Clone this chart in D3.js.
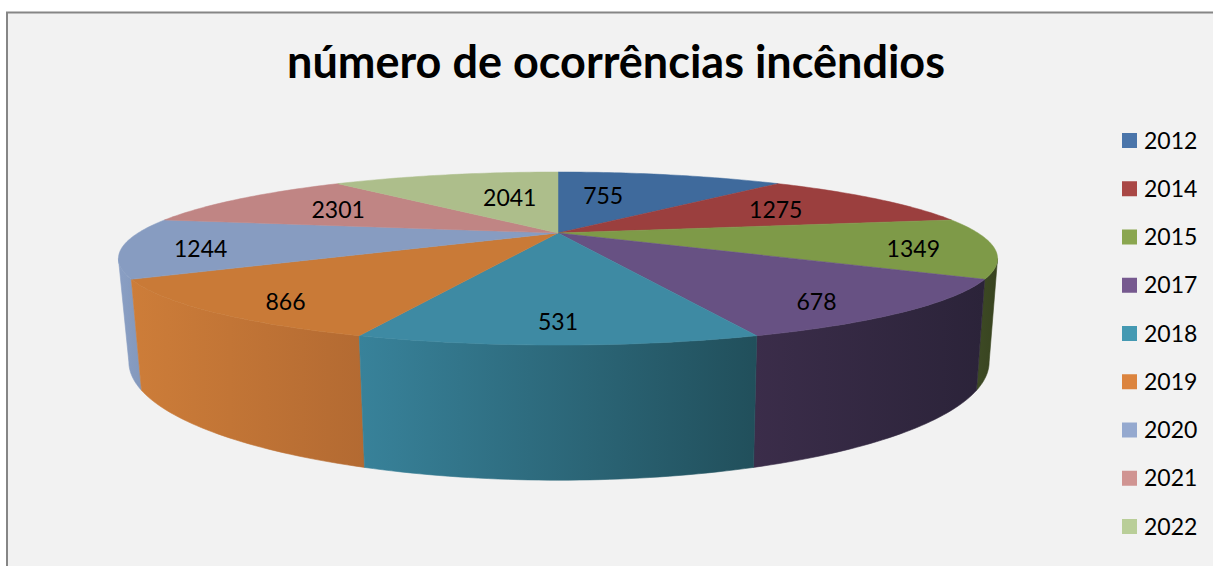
<!DOCTYPE html>
<html>
<head>
<meta charset="utf-8">
<script src="https://cdn.jsdelivr.net/npm/d3@7"></script>
<style>
  html, body { margin: 0; padding: 0; background: #fff; overflow: hidden; }
  text { font-family: Lato, "Noto Sans", sans-serif; fill: #000; }
</style>
</head>
<body>
<div id="chart"></div>
<script>
const titleText = "número de ocorrências incêndios";
const years = ["2012", "2014", "2015", "2017", "2018", "2019", "2020", "2021", "2022"];
const valueLabels = ["755", "1275", "1349", "678", "531", "866", "1244", "2301", "2041"];
// the slices in the picture are all the same size, whatever the label says
const sliceShares = [1, 1, 1, 1, 1, 1, 1, 1, 1];

const topColors = ["#3f6a9c", "#9b3f3e", "#7e9a48", "#675183", "#3e8aa3", "#c97a37", "#879cc1", "#c08584", "#adbe8b"];
const legendColors = ["#4a75aa", "#a94745", "#8aa64f", "#76598f", "#4499b2", "#dc843e", "#95a9cf", "#d09492", "#b9ce98"];
const wallLeft = ["#3f6a9c", "#9b3f3e", "#3d4a25", "#3b2d4a", "#38829a", "#cd7d39", "#8a9fc4", "#c08584", "#adbe8b"];
const wallRight = ["#3f6a9c", "#9b3f3e", "#38431f", "#2b2339", "#214f5b", "#b36a32", "#8398bc", "#c08584", "#adbe8b"];

// small nudges so labels sit where the original put them
const labelNudge = [[-39, 6], [-13, 2], [55, 6], [34, 19], [0, 19], [-48, 19], [-57, 6], [11, 2], [36, 8]];

const width = 1213, height = 566;
const persp = 0.295;
const topPlane = { cx: 558, a: 420, b: 79, cy: 233 };
const bottomPlane = { cx: 559, a: 411, b: 108, cy: 327 };
const labelRadius = 0.7;
const silhouette = Math.acos(-persp);

const svg = d3.select("#chart").append("svg")
  .attr("width", width)
  .attr("height", height);

const defs = svg.append("defs");

svg.append("rect")
  .attr("x", 7)
  .attr("y", 12.5)
  .attr("width", width + 20)
  .attr("height", height)
  .attr("fill", "#f2f2f2")
  .attr("stroke", "#868686")
  .attr("stroke-width", 2);

svg.append("text")
  .attr("x", 616)
  .attr("y", 78)
  .attr("text-anchor", "middle")
  .attr("font-size", 45)
  .attr("font-weight", 700)
  .text(titleText);

// angle is clockwise from the back of the disc
function project(plane, angle, r) {
  const d = -r * Math.cos(angle);
  const w = 1 - persp * d;
  return [plane.cx + plane.a * r * Math.sin(angle) / w, plane.cy + plane.b * d / w];
}

function rim(plane, from, to) {
  const steps = 40;
  return d3.range(steps + 1).map(i => project(plane, from + (to - from) * i / steps, 1));
}

const arcs = d3.pie().sort(null).value(d => d)(sliceShares);
const line = d3.line();

// walls, back ones first so the front ones cover them
const walls = arcs
  .map(a => ({
    index: a.index,
    from: Math.max(a.startAngle, silhouette),
    to: Math.min(a.endAngle, 2 * Math.PI - silhouette)
  }))
  .filter(d => d.to > d.from)
  .map(d => ({
    ...d,
    points: rim(topPlane, d.from, d.to).concat(rim(bottomPlane, d.to, d.from)),
    mid: Math.abs((d.from + d.to) / 2 - Math.PI)
  }))
  .sort((p, q) => d3.descending(p.mid, q.mid));

walls.forEach(d => {
  const xExtent = d3.extent(d.points, p => p[0]);
  const grad = defs.append("linearGradient")
    .attr("id", `wall${d.index}`)
    .attr("gradientUnits", "userSpaceOnUse")
    .attr("x1", xExtent[0])
    .attr("x2", xExtent[1])
    .attr("y1", 0)
    .attr("y2", 0);
  grad.append("stop").attr("offset", 0).attr("stop-color", wallLeft[d.index]);
  grad.append("stop").attr("offset", 1).attr("stop-color", wallRight[d.index]);
});

svg.append("g").selectAll("path")
  .data(walls)
  .join("path")
  .attr("d", d => line(d.points) + "Z")
  .attr("fill", d => `url(#wall${d.index})`)
  .attr("stroke", d => `url(#wall${d.index})`)
  .attr("stroke-width", 0.6);

// top of the disc
svg.append("g").selectAll("path")
  .data(arcs)
  .join("path")
  .attr("d", a => line([[topPlane.cx, topPlane.cy]].concat(rim(topPlane, a.startAngle, a.endAngle))) + "Z")
  .attr("fill", a => topColors[a.index])
  .attr("stroke", a => topColors[a.index])
  .attr("stroke-width", 0.5);

svg.append("g").selectAll("text")
  .data(arcs)
  .join("text")
  .attr("x", a => project(topPlane, (a.startAngle + a.endAngle) / 2, labelRadius)[0] + labelNudge[a.index][0])
  .attr("y", a => project(topPlane, (a.startAngle + a.endAngle) / 2, labelRadius)[1] + labelNudge[a.index][1])
  .attr("dy", "0.35em")
  .attr("text-anchor", "middle")
  .attr("font-size", 23)
  .text(a => valueLabels[a.index]);

// legend
const legendY = d3.scalePoint().domain(years).range([140.5, 526.5]);
const legendColor = d3.scaleOrdinal().domain(years).range(legendColors);

const legend = svg.append("g").selectAll("g")
  .data(years)
  .join("g")
  .attr("transform", d => `translate(1122,${legendY(d)})`);

legend.append("rect")
  .attr("y", -7.5)
  .attr("width", 15)
  .attr("height", 15)
  .attr("fill", d => legendColor(d));

legend.append("text")
  .attr("x", 22)
  .attr("dy", "0.35em")
  .attr("font-size", 23)
  .text(d => d);
</script>
</body>
</html>
